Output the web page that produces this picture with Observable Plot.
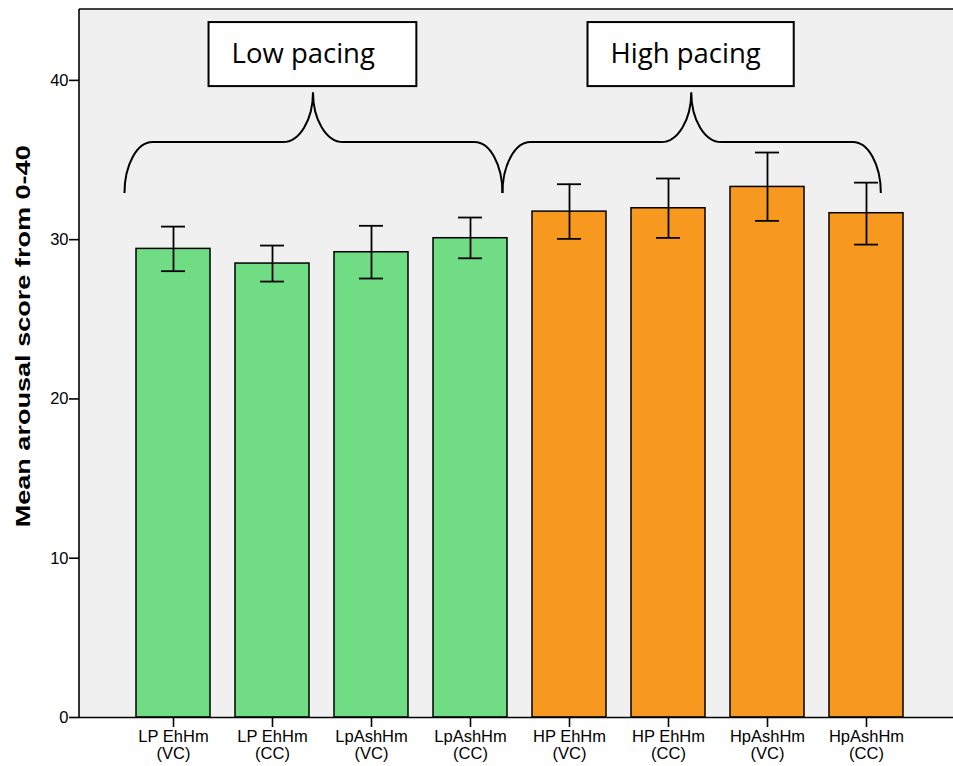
<!DOCTYPE html>
<html><head><meta charset="utf-8">
<script src="https://cdn.jsdelivr.net/npm/d3@7"></script>
<script src="https://cdn.jsdelivr.net/npm/@observablehq/plot@0.6"></script>
<style>body{margin:0;background:#fff}</style>
</head><body><div id="chart"></div>
<script>
const categories = ["LP EhHm\n(VC)", "LP EhHm\n(CC)", "LpAshHm\n(VC)", "LpAshHm\n(CC)",
                    "HP EhHm\n(VC)", "HP EhHm\n(CC)", "HpAshHm\n(VC)", "HpAshHm\n(CC)"];
const groups = ["Low", "Low", "Low", "Low", "High", "High", "High", "High"];
const means = [29.42, 28.50, 29.21, 30.09, 31.76, 31.97, 33.31, 31.66];
const lower = [28.02, 27.37, 27.56, 28.83, 30.05, 30.11, 31.18, 29.69];
const upper = [30.82, 29.63, 30.87, 31.39, 33.48, 33.84, 35.47, 33.58];
const yTicks = [0, 10, 20, 30, 40];
const groupLabels = ["Low pacing", "High pacing"];
const yLabel = "Mean arousal score from 0-40";

const data = categories.map((c, i) => ({cat: c, group: groups[i], mean: means[i], lo: lower[i], hi: upper[i]}));

const plot = Plot.plot({
  width: 953, height: 766,
  marginLeft: 79, marginRight: 0, marginTop: 9, marginBottom: 49,
  style: {fontFamily: "Arial, 'Liberation Sans', sans-serif", fontSize: "16px", background: "#fff", color: "#000"},
  x: {type: "band", domain: categories, range: [79, 961], paddingInner: 0.25, paddingOuter: 0.568},
  y: {domain: [0, 44.45]},
  color: {domain: ["Low", "High"], range: ["#70dc84", "#f7991e"]},
  marks: [
    Plot.frame({fill: "#f0f0f0", stroke: "none"}),
    Plot.barY(data, {x: "cat", y: "mean", fill: "group", stroke: "#000", strokeWidth: 1.5}),
    Plot.ruleX(data, {x: "cat", y1: "lo", y2: "hi", stroke: "#000", strokeWidth: 1.8}),
    Plot.tickY(data, {x: "cat", y: "lo", stroke: "#000", strokeWidth: 1.8, insetLeft: 25, insetRight: 25}),
    Plot.tickY(data, {x: "cat", y: "hi", stroke: "#000", strokeWidth: 1.8, insetLeft: 25, insetRight: 25}),
    Plot.ruleY([0], {stroke: "#000", strokeWidth: 1.6}),
    Plot.axisY({ticks: yTicks, tickSize: 10, tickPadding: 1, label: null, fontSize: 16.5, strokeWidth: 1.6}),
    Plot.axisX({tickSize: 10, tickPadding: 3, label: null, fontSize: 16.5, lineHeight: 1.02, strokeWidth: 1.6})
  ]
});
document.getElementById("chart").appendChild(plot);

const svg = d3.select(plot);
const xs = plot.scale("x"), ys = plot.scale("y");
const step = xs.step;
const c0 = xs.apply(categories[0]) + xs.bandwidth / 2;
const X = u => c0 + u * step;   // position in band-index units
const Y = v => ys.apply(v);

// frame lines (left and top)
const yTop = Y(44.45), yBot = Y(0);
svg.append("line").attr("x1", 79).attr("x2", 953).attr("y1", yTop).attr("y2", yTop)
  .attr("stroke", "#000").attr("stroke-width", 1.6);
svg.append("line").attr("x1", 79).attr("x2", 79).attr("y1", yTop).attr("y2", yBot)
  .attr("stroke", "#000").attr("stroke-width", 1.6);

// y label
svg.append("text")
  .attr("transform", `translate(22,${Y(23.9)}) rotate(-90)`)
  .attr("text-anchor", "middle").attr("dominant-baseline", "central")
  .attr("font-family", "Arial, 'Liberation Sans', sans-serif")
  .attr("font-weight", "bold").attr("font-size", 21)
  .attr("textLength", 382).attr("lengthAdjust", "spacingAndGlyphs")
  .text(yLabel);

// braces
function brace(xL, xT, xR, yEnd, yMid, yTip, rEnd, rTip) {
  const a = yEnd - yMid, b = yMid - yTip;
  return `M${xL},${yEnd} A${rEnd},${a} 0 0 1 ${xL + rEnd},${yMid} L${xT - rTip},${yMid} ` +
         `A${rTip},${b} 0 0 0 ${xT},${yTip} A${rTip},${b} 0 0 0 ${xT + rTip},${yMid} ` +
         `L${xR - rEnd},${yMid} A${rEnd},${a} 0 0 1 ${xR},${yEnd}`;
}
const braces = [
  {l: -0.49, t: 1.414, r: 3.328},
  {l: 3.328, t: 5.235, r: 7.15}
];
braces.forEach(b => {
  svg.append("path")
    .attr("d", brace(X(b.l), X(b.t), X(b.r), Y(32.9), Y(36.1), Y(39.23), 28, 30))
    .attr("fill", "none").attr("stroke", "#000").attr("stroke-width", 2);
});

// label boxes
const boxes = [{l: 0.359, r: 2.458}, {l: 4.187, r: 6.27}];
boxes.forEach((b, i) => {
  const x0 = X(b.l), x1 = X(b.r), y0 = Y(43.63), y1 = Y(39.61);
  svg.append("rect").attr("x", x0).attr("y", y0).attr("width", x1 - x0).attr("height", y1 - y0)
    .attr("fill", "#fff").attr("stroke", "#000").attr("stroke-width", 2);
  svg.append("text").attr("x", x0 + 23).attr("y", y0 + 41)
    .attr("text-anchor", "start")
    .attr("font-family", "'Open Sans', sans-serif").attr("font-size", 27.5).attr("fill", "#000")
    .text(groupLabels[i]);
});
</script>
</body></html>
